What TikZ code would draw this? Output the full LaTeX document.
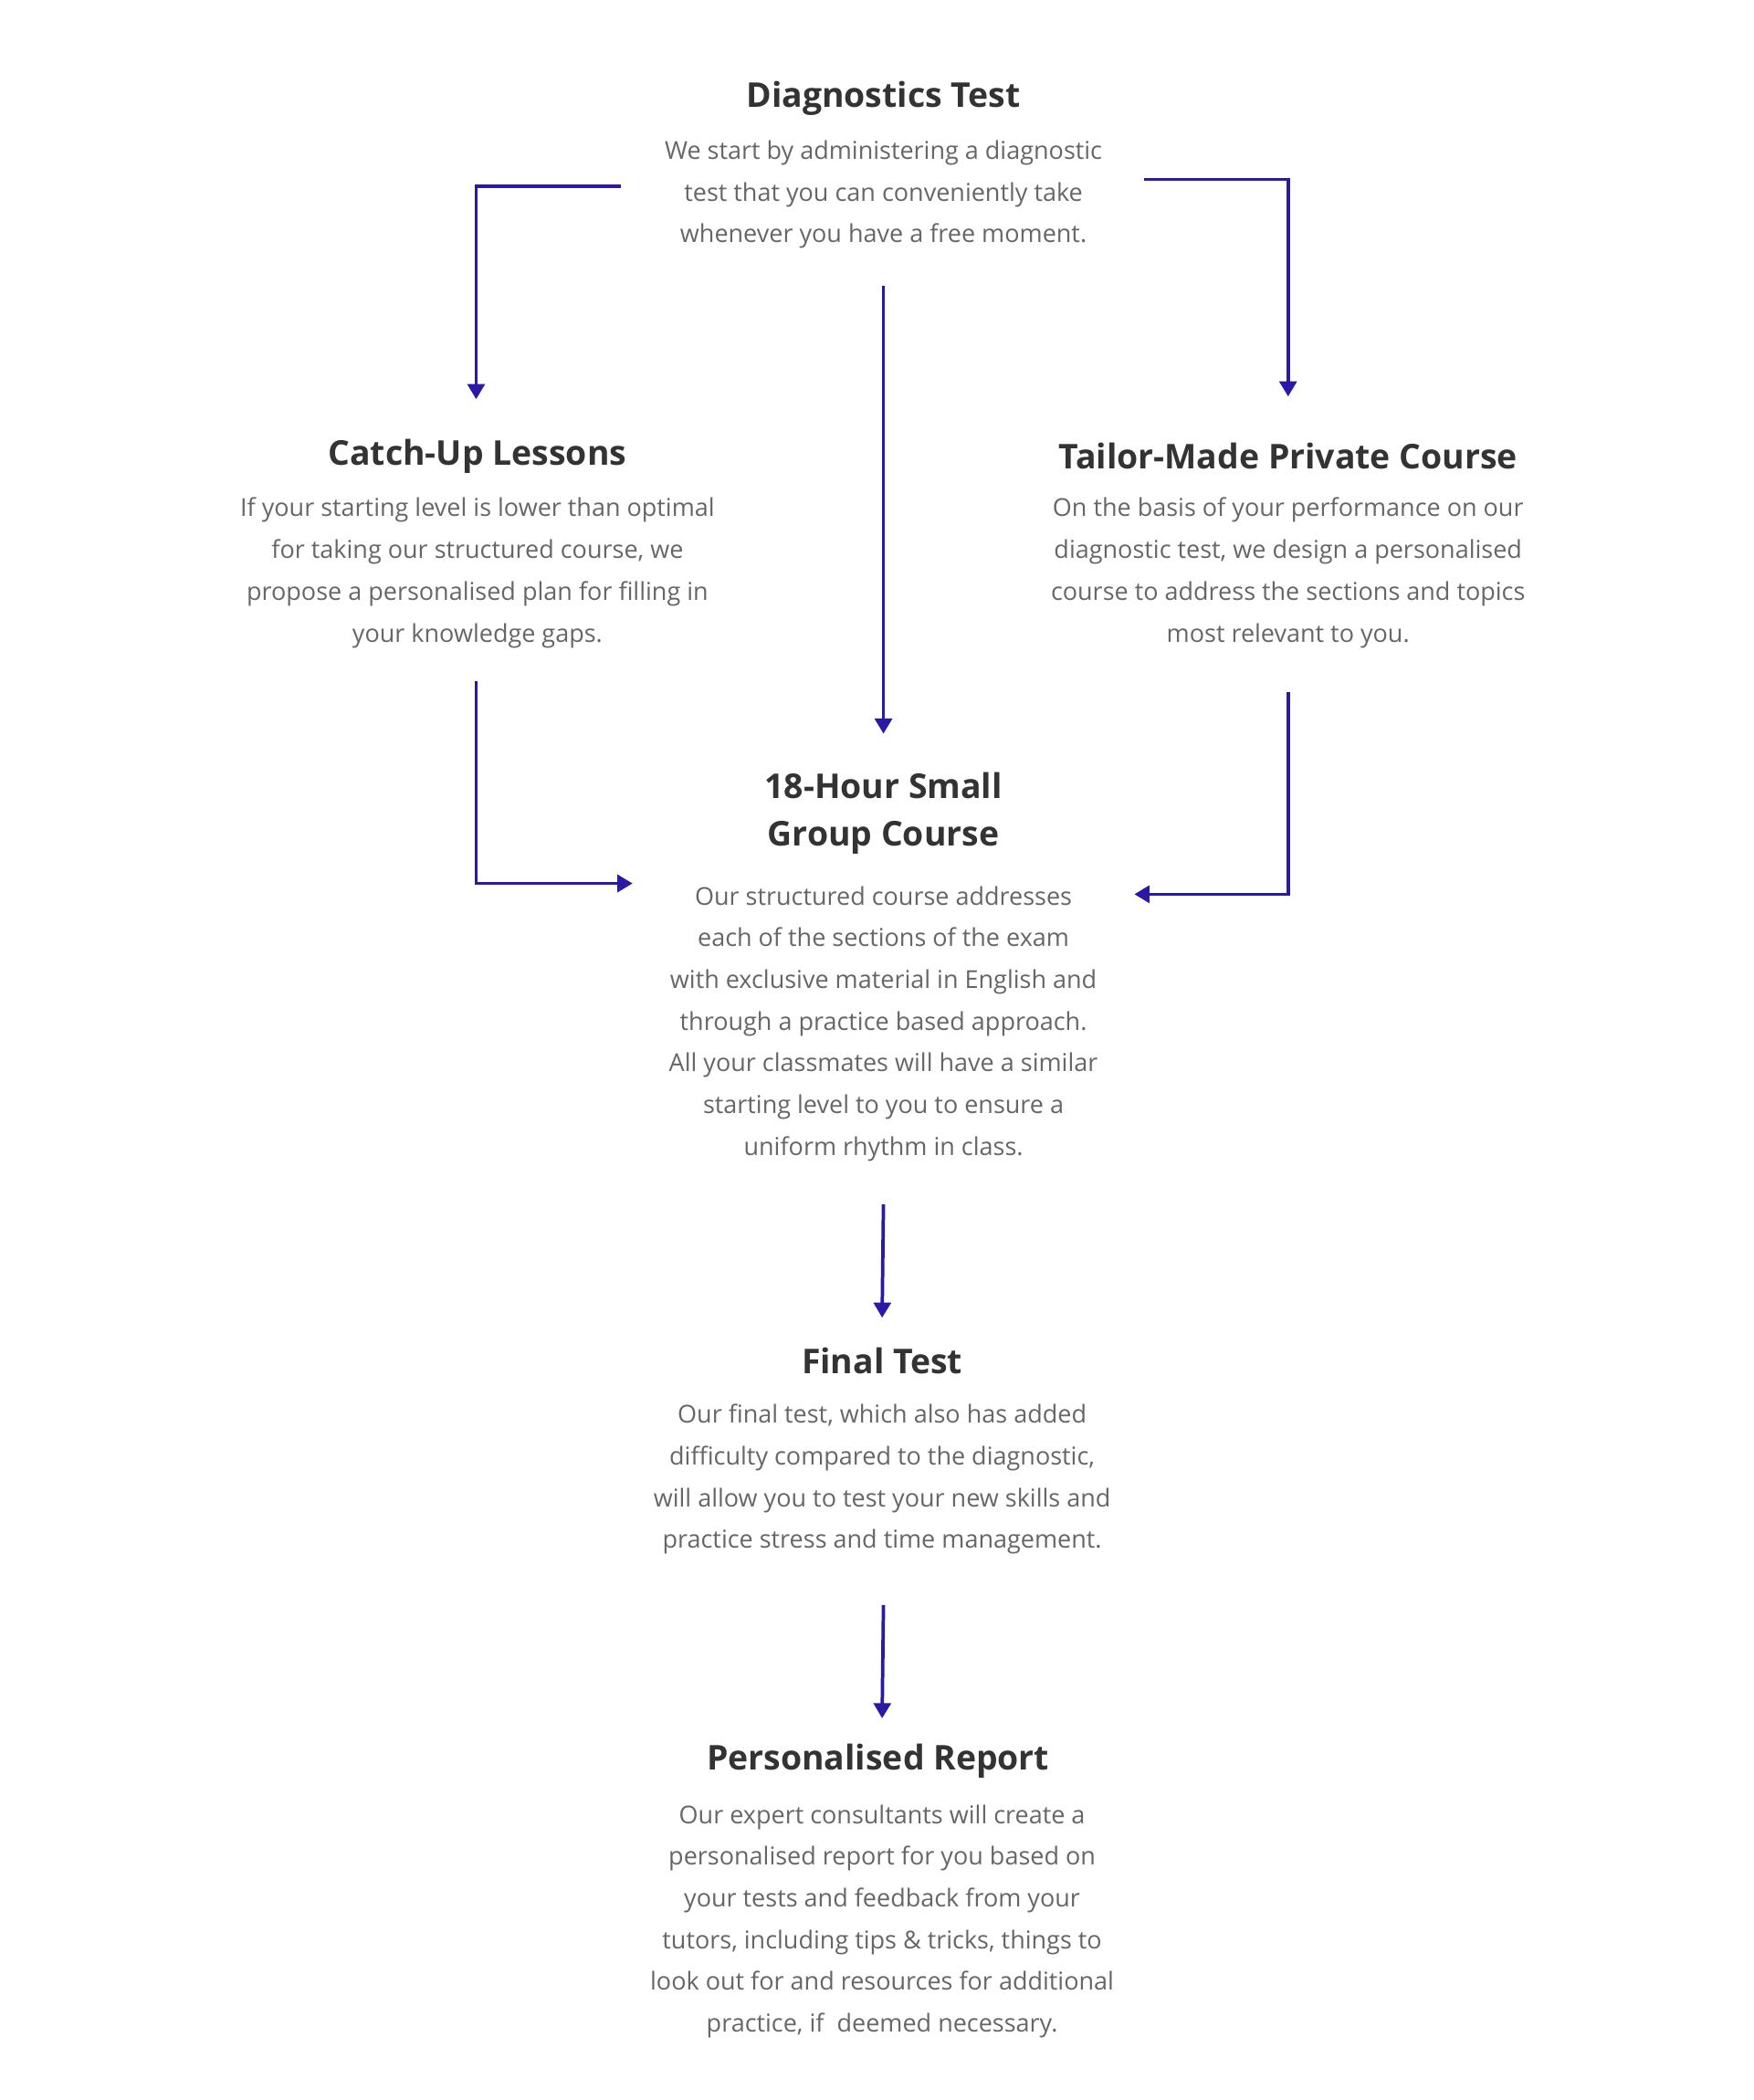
\documentclass[tikz,border=0pt]{standalone}
\usepackage{fontspec}
\setmainfont{Open Sans}
\usetikzlibrary{arrows.meta,positioning}
\definecolor{flowblue}{HTML}{2A18A6}
\definecolor{titlegrey}{HTML}{333333}
\definecolor{bodygrey}{HTML}{666666}
\begin{document}
\begin{tikzpicture}
        [
            x=0.05cm, y=-0.05cm,
            heading/.style = {
                font=\fontsize{36}{50}\selectfont\bfseries,
                text=titlegrey,
                align=center,
                inner sep=0pt
            },
            body/.style = {
                font=\fontsize{26}{44}\selectfont,
                text=bodygrey,
                align=center,
                inner sep=0pt,
                anchor=north
            },
            line/.style = {
                draw=flowblue,
                line width=3.6pt,
                -{Triangle[length=16pt,width=18pt]}
            }
        ]
        \useasboundingbox (0,0) rectangle (1300,1557);

        \node[heading] (diagT) at (655,73) {Diagnostics Test};
        \node[body] (diagB) at (655,104) {We start by administering a diagnostic\\test that you can conveniently take\\whenever you have a free moment.};

        \node[heading] (catchT) at (354,338) {Catch-Up Lessons};
        \node[body] (catchB) at (354,369) {If your starting level is lower than optimal\\for taking our structured course, we\\propose a personalised plan for filling in\\your knowledge gaps.};

        \node[heading] (tailorT) at (955,338) {Tailor-Made Private Course};
        \node[body] (tailorB) at (955,369) {On the basis of your performance on our\\diagnostic test, we design a personalised\\course to address the sections and topics\\most relevant to you.};

        \node[heading] (groupT) at (655,603) {18-Hour Small\\Group Course};
        \node[body] (groupB) at (655,657) {Our structured course addresses\\each of the sections of the exam\\with exclusive material in English and\\through a practice based approach.\\All your classmates will have a similar\\starting level to you to ensure a\\uniform rhythm in class.};

        \node[heading] (finalT) at (654,1009) {Final Test};
        \node[body] (finalB) at (654,1041) {Our final test, which also has added\\difficulty compared to the diagnostic,\\will allow you to test your new skills and\\practice stress and time management.};

        \node[heading] (reportT) at (651,1306) {Personalised Report};
        \node[body] (reportB) at (654,1338) {Our expert consultants will create a\\personalised report for you based on\\your tests and feedback from your\\tutors, including tips \& tricks, things to\\look out for and resources for additional\\practice, if~ deemed necessary.};

        % connector ends
        \coordinate (diagL) at (460,138);
        \coordinate (diagR) at (848,133);
        \coordinate (diagD) at (655,212);
        \coordinate (catchIn) at (353,296);
        \coordinate (tailorIn) at (955,294);
        \coordinate (catchOut) at (353,505);
        \coordinate (tailorOut) at (955,513);
        \coordinate (groupTop) at (655,544);
        \coordinate (groupL) at (469,655);
        \coordinate (groupR) at (841,663);
        \coordinate (groupOut) at (655,893);
        \coordinate (finalIn) at (654,977);
        \coordinate (finalOut) at (655,1190);
        \coordinate (reportIn) at (654,1274);

        \path[line] (diagL) -| (catchIn);
        \path[line] (diagR) -| (tailorIn);
        \path[line] (diagD) -- (groupTop);
        \path[line] (catchOut) |- (groupL);
        \path[line] (tailorOut) |- (groupR);
        \path[line] (groupOut) -- (finalIn);
        \path[line] (finalOut) -- (reportIn);
    \end{tikzpicture}
\end{document}
